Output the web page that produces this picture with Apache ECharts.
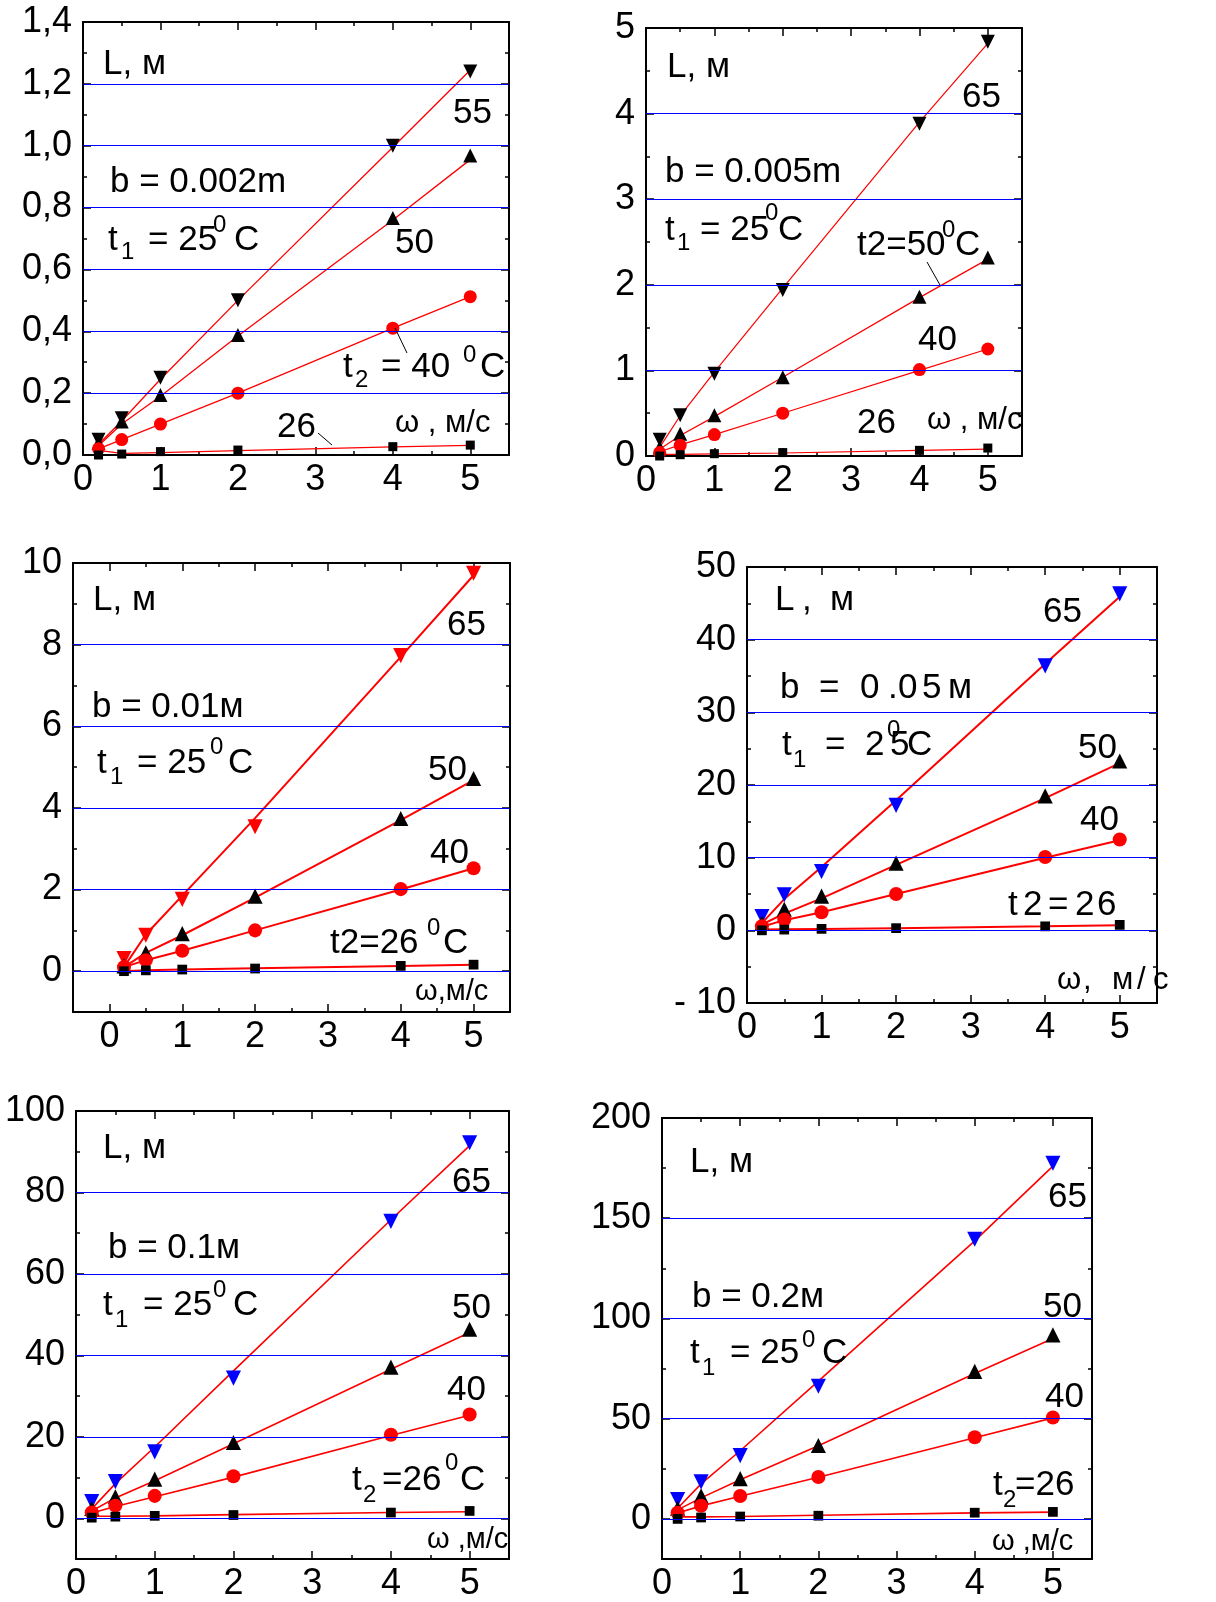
<!DOCTYPE html>
<html><head><meta charset="utf-8">
<script src="https://cdn.jsdelivr.net/npm/echarts@6/dist/echarts.min.js"></script>
<style>html,body{margin:0;padding:0;background:#fff}#c{width:1216px;height:1602px}</style>
</head><body><div id="c"></div><script>
// x values: air speed ω, м/с
const omega = [0.2, 0.5, 1, 2, 4, 5];

// Panel 1: b = 0.002 m  (markers / fitted line values)
const p1_55 = [0.049, 0.119, 0.25, 0.50, 1.0, 1.24];
const p1_50 = [0.04, 0.108, 0.194, 0.388, 0.766, 0.968];
const p1_40 = [0.02, 0.05, 0.10, 0.20, 0.41, 0.512];
const p1_26 = [0.0, 0.003, 0.011, 0.016, 0.027, 0.032];
const p1_55f = [0.035, 0.11, 0.245, 0.50, 0.995, 1.245];
const p1_50f = [0.03, 0.10, 0.19, 0.385, 0.76, 0.955];
const p1_40f = [0.02, 0.05, 0.10, 0.20, 0.41, 0.512];
const p1_26f = [0.015, 0.005, 0.008, 0.014, 0.026, 0.031];

// Panel 2: b = 0.005 m
const p2_65 = [0.19, 0.475, 0.96, 1.94, 3.88, 4.84];
const p2_50 = [0.1, 0.26, 0.475, 0.92, 1.86, 2.32];
const p2_40 = [0.04, 0.125, 0.25, 0.5, 1.01, 1.25];
const p2_26 = [0.0, 0.015, 0.027, 0.04, 0.066, 0.093];
const p2_65f = [0.1, 0.47, 0.98, 1.96, 3.9, 4.82];
const p2_50f = [0.08, 0.24, 0.46, 0.92, 1.85, 2.3];
const p2_40f = [0.05, 0.13, 0.25, 0.5, 1.0, 1.25];
const p2_26f = [0.02, 0.02, 0.025, 0.035, 0.065, 0.08];

// Panel 3: b = 0.01 м
const p3_65 = [0.31, 0.88, 1.76, 3.54, 7.73, 9.75];
const p3_50 = [0.13, 0.45, 0.92, 1.84, 3.74, 4.72];
const p3_40 = [0.1, 0.27, 0.5, 1.0, 2.01, 2.52];
const p3_26 = [0.0, 0.02, 0.04, 0.065, 0.13, 0.16];
const p3_65f = [0.1, 0.9, 1.85, 3.75, 7.7, 9.7];
const p3_50f = [0.1, 0.45, 0.88, 1.8, 3.7, 4.68];
const p3_40f = [0.1, 0.27, 0.5, 1.0, 2.0, 2.52];
const p3_26f = [0.0, 0.02, 0.04, 0.07, 0.13, 0.16];

// Panel 4: b = 0.05 м
const p4_65 = [1.9, 4.9, 8.1, 17.2, 36.4, 46.3];
const p4_50 = [1.0, 2.9, 4.7, 9.25, 18.5, 23.3];
const p4_40 = [0.55, 1.5, 2.5, 5.0, 10.1, 12.5];
const p4_26 = [0.0, 0.1, 0.2, 0.3, 0.55, 0.75];
const p4_65f = [1.0, 4.3, 8.7, 17.9, 36.7, 45.9];
const p4_50f = [0.8, 2.3, 4.4, 9.0, 18.2, 23.0];
const p4_40f = [0.5, 1.4, 2.5, 5.0, 10.0, 12.4];
const p4_26f = [0.1, 0.15, 0.2, 0.3, 0.55, 0.7];

// Panel 5: b = 0.1 м
const p5_65 = [4.1, 9.0, 16.3, 34.4, 72.9, 92.2];
const p5_50 = [2.4, 5.3, 9.6, 18.6, 37.1, 46.4];
const p5_40 = [1.4, 3.1, 5.5, 10.3, 20.5, 25.5];
const p5_26 = [0.15, 0.4, 0.6, 0.8, 1.4, 1.8];
const p5_65f = [2.3, 8.5, 17.5, 36.2, 73.3, 91.5];
const p5_50f = [1.8, 5.0, 9.2, 18.3, 36.6, 45.6];
const p5_40f = [1.3, 2.9, 5.3, 10.1, 20.3, 25.3];
const p5_26f = [0.5, 0.5, 0.6, 0.9, 1.4, 1.6];

// Panel 6: b = 0.2 м
const p6_65 = [9.7, 18.5, 31.6, 66.2, 139.5, 177.4];
const p6_50 = [5.3, 11.5, 20.1, 36.6, 73.6, 91.8];
const p6_40 = [3.1, 6.6, 11.4, 20.9, 40.7, 50.6];
const p6_26 = [0.0, 0.7, 1.2, 1.6, 3.1, 3.5];
const p6_65f = [5.3, 17.5, 34, 68.7, 138.7, 176];
const p6_50f = [4.5, 10.5, 19.5, 36.5, 72.5, 90];
const p6_40f = [3.0, 6.5, 11.3, 20.8, 40.5, 50.4];
const p6_26f = [1.0, 1.0, 1.2, 1.8, 3.0, 3.4];

// Tick values and labels
const xMajor = [0, 1, 2, 3, 4, 5];
const xMinor = [0.5, 1.5, 2.5, 3.5, 4.5];
const p1YTicks = [0, 0.2, 0.4, 0.6, 0.8, 1.0, 1.2, 1.4];
const p1YLabels = ['0,0', '0,2', '0,4', '0,6', '0,8', '1,0', '1,2', '1,4'];
const p1YMinor = [0.1, 0.3, 0.5, 0.7, 0.9, 1.1, 1.3];
const p2YTicks = [0, 1, 2, 3, 4, 5];
const p2YLabels = ['0', '1', '2', '3', '4', '5'];
const p2YMinor = [0.5, 1.5, 2.5, 3.5, 4.5];
const p3YTicks = [0, 2, 4, 6, 8, 10];
const p3YLabels = ['0', '2', '4', '6', '8', '10'];
const p3YMinor = [-1, 1, 3, 5, 7, 9];
const p4YTicks = [-10, 0, 10, 20, 30, 40, 50];
const p4YLabels = ['- 10', '0', '10', '20', '30', '40', '50'];
const p4YMinor = [-5, 5, 15, 25, 35, 45];
const p5YTicks = [0, 20, 40, 60, 80, 100];
const p5YLabels = ['0', '20', '40', '60', '80', '100'];
const p5YMinor = [-10, 10, 30, 50, 70, 90];
const p6YTicks = [0, 50, 100, 150, 200];
const p6YLabels = ['0', '50', '100', '150', '200'];
const p6YMinor = [25, 75, 125, 175];
// blue horizontal grid lines
const p1Grid = [0.2, 0.4, 0.6, 0.8, 1.0, 1.2];
const p2Grid = [1, 2, 3, 4];
const p3Grid = [0, 2, 4, 6, 8];
const p4Grid = [0, 10, 20, 30, 40];
const p5Grid = [0, 20, 40, 60, 80];
const p6Grid = [0, 50, 100, 150];

const BLUE = '#0000ff', RED = '#ff0000', BLACK = '#000000';
const F = '"Liberation Sans", Arial, sans-serif';
const TICKFS = 36;

const panels = [
  {box: [83, 22, 426, 433], xr: [0, 5.5], yr: [0, 1.4], yt: p1YTicks, yl: p1YLabels, ym: p1YMinor, gl: p1Grid,
   s: [[p1_55, p1_55f, 'down', BLACK], [p1_50, p1_50f, 'up', BLACK], [p1_40, p1_40f, 'circle', RED], [p1_26, p1_26f, 'rect', BLACK]], lw: 1.3, ms: 1},
  {box: [646, 28, 376, 428], xr: [0, 5.5], yr: [0, 5], yt: p2YTicks, yl: p2YLabels, ym: p2YMinor, gl: p2Grid,
   s: [[p2_65, p2_65f, 'down', BLACK], [p2_50, p2_50f, 'up', BLACK], [p2_40, p2_40f, 'circle', RED], [p2_26, p2_26f, 'rect', BLACK]], lw: 1.2, ms: 1},
  {box: [73, 563, 437, 449], xr: [-0.5, 5.5], yr: [-1, 10], yt: p3YTicks, yl: p3YLabels, ym: p3YMinor, gl: p3Grid,
   s: [[p3_65, p3_65f, 'down', RED], [p3_50, p3_50f, 'up', BLACK], [p3_40, p3_40f, 'circle', RED], [p3_26, p3_26f, 'rect', BLACK]], lw: 2, ms: 1.08},
  {box: [747, 567, 410, 436], xr: [0, 5.5], yr: [-10, 50], yt: p4YTicks, yl: p4YLabels, ym: p4YMinor, gl: p4Grid,
   s: [[p4_65, p4_65f, 'down', BLUE], [p4_50, p4_50f, 'up', BLACK], [p4_40, p4_40f, 'circle', RED], [p4_26, p4_26f, 'rect', BLACK]], lw: 2, ms: 1.08},
  {box: [76, 1111, 433, 450], xr: [0, 5.5], yr: [-10, 100], yt: p5YTicks, yl: p5YLabels, ym: p5YMinor, gl: p5Grid,
   s: [[p5_65, p5_65f, 'down', BLUE], [p5_50, p5_50f, 'up', BLACK], [p5_40, p5_40f, 'circle', RED], [p5_26, p5_26f, 'rect', BLACK]], lw: 1.6, ms: 1.08},
  {box: [662, 1118, 430, 444], xr: [0, 5.5], yr: [-20, 200], yt: p6YTicks, yl: p6YLabels, ym: p6YMinor, gl: p6Grid,
   s: [[p6_65, p6_65f, 'down', BLUE], [p6_50, p6_50f, 'up', BLACK], [p6_40, p6_40f, 'circle', RED], [p6_26, p6_26f, 'rect', BLACK]], lw: 1.6, ms: 1.08}
];

const grid = [], xAxis = [], yAxis = [], series = [];
function labelFor(ticks, labels) {
  return function (v) {
    for (let k = 0; k < ticks.length; k++) if (Math.abs(ticks[k] - v) < 1e-9) return labels[k];
    return '';
  };
}
panels.forEach(function (p, i) {
  grid.push({left: p.box[0], top: p.box[1], width: p.box[2], height: p.box[3], containLabel: false});
  const line = {show: true, onZero: false, lineStyle: {color: BLACK, width: 2}};
  const noLine = {show: false, onZero: false};
  function xa(pos, vals, len, showLine, labels) {
    return {gridIndex: i, type: 'value', position: pos, min: p.xr[0], max: p.xr[1],
      axisLine: showLine ? line : noLine, splitLine: {show: false},
      axisTick: {show: true, inside: true, length: len, customValues: vals, lineStyle: {color: BLACK, width: 1.5}},
      axisLabel: labels ? {show: true, customValues: xMajor, fontSize: TICKFS, fontFamily: F, color: BLACK, margin: 7} : {show: false}};
  }
  function ya(pos, vals, len, showLine, labels) {
    return {gridIndex: i, type: 'value', position: pos, min: p.yr[0], max: p.yr[1],
      axisLine: showLine ? line : noLine, splitLine: {show: false},
      axisTick: {show: true, inside: true, length: len, customValues: vals, lineStyle: {color: BLACK, width: 1.5}},
      axisLabel: labels ? {show: true, customValues: p.yt, fontSize: TICKFS, fontFamily: F, color: BLACK, margin: 11,
        formatter: labelFor(p.yt, p.yl)} : {show: false}};
  }
  const xi = xAxis.length, yi = yAxis.length;
  xAxis.push(xa('bottom', xMajor, 8, true, true), xa('bottom', xMinor, 4, false, false),
             xa('top', xMajor, 8, true, false), xa('top', xMinor, 4, false, false));
  yAxis.push(ya('left', p.yt, 8, true, true), ya('left', p.ym, 4, false, false),
             ya('right', p.yt, 8, true, false), ya('right', p.ym, 4, false, false));
  // blue grid lines
  series.push({type: 'line', xAxisIndex: xi, yAxisIndex: yi, data: [[p.xr[0], p.yr[0]]], symbol: 'none',
    lineStyle: {opacity: 0}, silent: true, z: 1,
    markLine: {silent: true, symbol: ['none', 'none'], label: {show: false}, animation: false,
      lineStyle: {color: BLUE, width: 1, type: 'solid'}, emphasis: {disabled: true},
      data: p.gl.map(function (v) { return {yAxis: v}; })}});
  p.s.forEach(function (s) {
    const pts = omega.map(function (x, k) { return [x, s[0][k]]; });
    const fit = omega.map(function (x, k) { return [x, s[1][k]]; });
    series.push({type: 'line', xAxisIndex: xi, yAxisIndex: yi, data: fit, symbol: 'none', showSymbol: false,
      lineStyle: {color: RED, width: p.lw}, silent: true, z: 2});
    let sym = 'triangle', rot = 0, size = 14;
    if (s[2] === 'down') { rot = 180; size = 14; }
    if (s[2] === 'circle') { sym = 'circle'; size = 13; }
    if (s[2] === 'rect') { sym = 'rect'; size = 9; }
    series.push({type: 'scatter', xAxisIndex: xi, yAxisIndex: yi, data: pts, symbol: sym, symbolRotate: rot,
      symbolSize: size * p.ms, itemStyle: {color: s[3], opacity: 1}, silent: true, z: 3});
  });
});

function T(x, y, s, size) {
  return {type: 'text', x: x, y: y, z: 100, silent: true,
    style: {text: s, fontSize: size || 35, fontFamily: F, fill: BLACK, align: 'left', verticalAlign: 'middle',
      textAlign: 'left', textVerticalAlign: 'middle'}};
}
function L(x1, y1, x2, y2) {
  return {type: 'line', z: 100, silent: true, shape: {x1: x1, y1: y1, x2: x2, y2: y2}, style: {stroke: BLACK, lineWidth: 1}};
}
const SS = 24;
const graphics = [
  // panel 1
  T(103, 64, 'L, м'), T(453, 113, '55'), T(110, 182, 'b = 0.002m'),
  T(108, 240, 't'), T(121, 252, '1', SS), T(148, 240, '= 25'), T(213, 225, '0', SS), T(234, 240, 'C'),
  T(395, 243, '50'),
  T(343, 367, 't'), T(355, 380, '2', SS), T(381, 367, '= 40'), T(463, 355, '0', SS), T(480, 367, 'C'),
  T(277, 427, '26'), T(395, 423, 'ω , м/с', 31),
  L(395, 328, 407, 353), L(318, 433, 332, 445),
  // panel 2
  T(667, 67, 'L, м'), T(962, 97, '65'), T(665, 172, 'b = 0.005m'),
  T(665, 230, 't'), T(677, 243, '1', SS), T(700, 230, '= 25'), T(765, 213, '0', SS), T(778, 230, 'C'),
  T(857, 245, 't2=50'), T(942, 230, '0', SS), T(955, 245, 'C'),
  L(927, 262, 940, 285),
  T(918, 340, '40'), T(857, 423, '26'), T(927, 420, 'ω , м/с', 31),
  // panel 3
  T(93, 600, 'L, м'), T(447, 625, '65'), T(92, 707, 'b = 0.01м'),
  T(97, 763, 't'), T(110, 777, '1', SS), T(137, 763, '= 25'), T(210, 747, '0', SS), T(228, 763, 'C'),
  T(428, 770, '50'), T(430, 853, '40'),
  T(330, 943, 't2=26'), T(427, 928, '0', SS), T(443, 943, 'C'),
  T(415, 992, 'ω,м/с', 29),
  // panel 4
  T(775, 600, 'L'), T(802, 600, ','), T(830, 600, 'м'),
  T(1043, 612, '65'),
  T(780, 688, 'b'), T(819, 688, '='), T(860, 688, '0'), T(888, 688, '.'), T(898, 688, '0'), T(922, 688, '5'), T(948, 688, 'м'),
  T(782, 745, 't'), T(793, 760, '1', SS), T(825, 745, '='), T(865, 745, '2'), T(890, 745, '5'), T(887, 730, '0', SS), T(907, 745, 'C'),
  T(1078, 748, '50'), T(1080, 820, '40'),
  T(1008, 905, 't'), T(1023, 905, '2'), T(1048, 905, '='), T(1075, 905, '2'), T(1097, 905, '6'),
  T(1057, 980, 'ω', 31), T(1083, 980, ',', 31), T(1112, 980, 'м', 31), T(1137, 980, '/', 31), T(1153, 980, 'с', 31),
  // panel 5
  T(103, 1148, 'L, м'), T(452, 1182, '65'), T(108, 1248, 'b = 0.1м'),
  T(103, 1305, 't'), T(115, 1320, '1', SS), T(143, 1305, '= 25'), T(213, 1290, '0', SS), T(233, 1305, 'C'),
  T(452, 1308, '50'), T(447, 1390, '40'),
  T(352, 1480, 't'), T(363, 1495, '2', SS), T(382, 1480, '=26'), T(445, 1463, '0', SS), T(460, 1480, 'C'),
  T(427, 1540, 'ω ,м/с', 29),
  // panel 6
  T(690, 1162, 'L, м'), T(1048, 1197, '65'), T(692, 1297, 'b = 0.2м'),
  T(690, 1353, 't'), T(702, 1368, '1', SS), T(730, 1353, '= 25'), T(802, 1340, '0', SS), T(822, 1353, 'C'),
  T(1043, 1307, '50'), T(1045, 1397, '40'),
  T(993, 1485, 't'), T(1003, 1500, '2', SS), T(1015, 1485, '=26'),
  T(992, 1542, 'ω ,м/с', 29)
];

const chart = echarts.init(document.getElementById('c'), null, {renderer: 'canvas'});
chart.setOption({
  backgroundColor: '#ffffff',
  animation: false,
  grid: grid, xAxis: xAxis, yAxis: yAxis, series: series,
  graphic: {elements: graphics}
});
</script></body></html>
